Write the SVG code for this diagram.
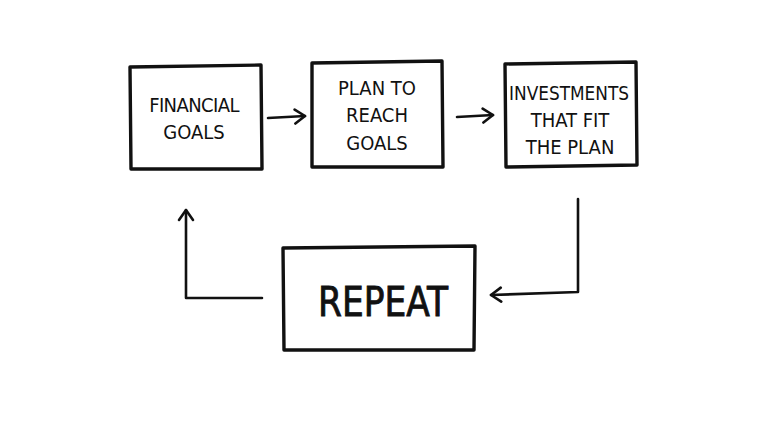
<svg xmlns="http://www.w3.org/2000/svg" width="768" height="436" viewBox="0 0 768 436">
<style>
.box{fill:none;stroke:#111;stroke-width:3.4;stroke-linejoin:round;stroke-linecap:round}
.con{fill:none;stroke:#111;stroke-width:2.6;stroke-linecap:round;stroke-linejoin:round}
.t{font-family:"DejaVu Sans Condensed","DejaVu Sans",sans-serif;font-size:20px;fill:#111;text-anchor:middle}
.big{font-family:"DejaVu Sans Condensed","DejaVu Sans",sans-serif;font-size:40px;fill:#111;stroke:#111;stroke-width:0.8;text-anchor:middle}
</style>
<defs>
<marker id="ah" viewBox="0 0 14 18" refX="12" refY="9" markerWidth="14" markerHeight="18" markerUnits="userSpaceOnUse" orient="auto">
<path d="M2,2 L12,9 L2,16" fill="none" stroke="#111" stroke-width="2.6" stroke-linecap="round" stroke-linejoin="round"/>
</marker>
</defs>
<rect width="768" height="436" fill="#fff"/>
<g id="node-financial-goals">
<path class="box" d="M130,67 L261,65 L262,169 L131,169 Z"/>
<text class="t" x="194" y="112" letter-spacing="-0.6">FINANCIAL</text>
<text class="t" x="194" y="139">GOALS</text>
</g>
<g id="node-plan">
<path class="box" d="M312,63 L442,61 L443,167 L312,167 Z"/>
<text class="t" x="377" y="95">PLAN TO</text>
<text class="t" x="377" y="122">REACH</text>
<text class="t" x="377" y="150">GOALS</text>
</g>
<g id="node-investments">
<path class="box" d="M505,64 L636,62 L637,165 L506,167 Z"/>
<text class="t" x="569" y="100" textLength="120" lengthAdjust="spacingAndGlyphs">INVESTMENTS</text>
<text class="t" x="570" y="127">THAT  FIT</text>
<text class="t" x="570" y="154">THE PLAN</text>
</g>
<g id="node-repeat">
<path class="box" d="M283,248 L475,246 L474,350 L284,350 Z"/>
<text class="big" x="383" y="316" textLength="130" lengthAdjust="spacingAndGlyphs">REPEAT</text>
</g>
<g id="connectors">
<path class="con" d="M268,118 L305,116" marker-end="url(#ah)"/>
<path class="con" d="M457,117 L493,115" marker-end="url(#ah)"/>
<path class="con" d="M578,199 L578,292 L491,295" marker-end="url(#ah)"/>
<path class="con" d="M262,298 L186,298 L186,210" marker-end="url(#ah)"/>
</g>
</svg>
